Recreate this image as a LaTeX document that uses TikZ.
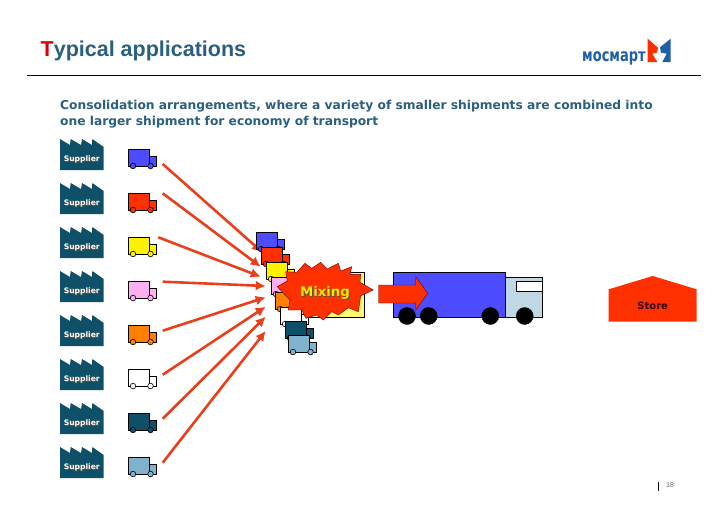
\documentclass[tikz,border=0pt]{standalone}
\usepackage{fontspec}
\setmainfont{Liberation Sans}
\newfontfamily\versefont{DejaVu Sans}
\usepackage{xcolor}
\usetikzlibrary{arrows.meta}
\definecolor{ftitle}{HTML}{2B5F7E}
\definecolor{fteal}{HTML}{0D5068}
\definecolor{fred}{HTML}{FF3000}
\definecolor{farrow}{HTML}{E8401C}
\definecolor{flogo}{HTML}{1F5FA8}
\definecolor{fblue}{HTML}{4D4DFF}
\definecolor{fpink}{HTML}{FFB0F0}
\definecolor{fsky}{HTML}{7FB2CC}
\definecolor{fcab}{HTML}{C0D8E4}
\newcommand{\shadowed}[1]{\rlap{\hspace{1pt}\raisebox{-1pt}{\textcolor{black!75!yellow}{#1}}}#1}
\tikzset{
  lorry/.pic={
    \draw[thick, fill=#1] (21,7) rectangle (28,17);
    \draw[thick, fill=#1] (0,0) rectangle (21,17);
    \draw[semithick, fill=#1] (5,17) circle (2.8);
    \draw[semithick, fill=#1] (22.5,17) circle (2.8);
  },
  wheel/.style={fill=black, draw=black},
  feed/.style={line width=2.6pt, farrow, -{Latex[length=10pt,width=10pt]}},
  plant/.style={font=\versefont\bfseries\fontsize{7.6}{10}\selectfont, text=white},
}
\begin{document}
\begin{tikzpicture}[x=1pt, y=-1pt, line join=miter]
\useasboundingbox (0,0) rectangle (728,514);
% ---------- header ----------
\node[anchor=base west, inner sep=0pt, font=\bfseries\fontsize{21.5}{24}\selectfont, text=ftitle] (title) at (40.5,56.5)
   {\textcolor{red!85!black}{T}ypical applications};
\draw[line width=0.8pt] (27,75) -- (701,75);
\node[anchor=north west, inner sep=0pt, align=left, text=ftitle, font=\versefont\bfseries\fontsize{12.25}{16}\selectfont] (intro) at (60,99.5)
   {Consolidation arrangements, where a variety of smaller shipments are combined into\\one larger shipment for economy of transport};
% ---------- logo ----------
\node[anchor=base west, inner sep=0pt, text=flogo, font=\versefont\bfseries\fontsize{13}{16}\selectfont] (logo) at (582,61) {\scalebox{1}[1.35]{мосмарт}};
\fill[fred] (647.7,38.7) -- (658.3,48) -- (656.7,52.7) -- (652.3,53.7) -- (657.3,62) -- (647.7,62) -- cycle;
\fill[flogo] (670.7,38.7) -- (670.7,62) -- (662.3,62) -- (666.7,53.7) -- (661,52.7) -- (660,47.3) -- cycle;
% ---------- suppliers, their lorries, feeds ----------
\foreach \n/\ytop/\col/\xa/\ya/\xb/\yb in {
  1/139/fblue/162.7/164/262/252,
  2/183/fred/162.7/193.3/260.7/266.7,
  3/227/yellow/158.3/237.3/260.7/276.7,
  4/271/fpink/162.7/281.7/265.7/286,
  5/315/orange/162.7/330.7/265.7/297.3,
  6/359/white/162.7/374.7/265.7/306.7,
  7/403/fteal/162.7/418.7/265.7/316.7,
  8/447/fsky/162.7/462.7/265.7/331}{
  \begin{scope}[shift={(60,\ytop)}]
    \fill[fteal] (0,0) -- (10,6) -- (10.7,0) -- (21,6) -- (22,0) -- (32,6) -- (32.3,0) -- (43.7,8) -- (43.7,31) -- (0,31) -- cycle;
    \node[plant] (supplier\n) at (21.8,20.5) {\shadowed{Supplier}};
  \end{scope}
  \pic at (128,\ytop+10) {lorry=\col};
  \coordinate (from\n) at (\xa,\ya);
  \coordinate (to\n) at (\xb,\yb);
  \draw[feed] (from\n) -- (to\n);
}
% ---------- mixing pile ----------
\draw[thick, fill=yellow!55!white] (300,272.3) rectangle (364.3,317);
\foreach \x/\y/\col in {256/232/fblue,261/247/fred,266/262/yellow,271/277/fpink,275/292/orange,280/307/white,285/321/fteal,288/335/fsky}{
  \pic at (\x,\y) {lorry=\col};
}
\filldraw[draw=black!60!red, fill=fred] (277.3,286.7) -- (287.3,281) -- (285.7,271.7) -- (296.7,272.3) -- (305,263.3) -- (311.7,268.3) -- (320.7,262.3) -- (327.3,269) -- (338.3,263.3) -- (340.7,271) -- (351.7,266.7) -- (350,274.3) -- (360.7,274.3) -- (360,282.3) -- (373.3,290) -- (360.7,295.7) -- (358.3,311.7) -- (348.3,307.7) -- (338.3,315) -- (331.7,311.7) -- (323.3,320) -- (316.7,315) -- (306,318.3) -- (301.7,310) -- (288.3,310) -- (290,300) -- cycle;
\node[text=yellow!90!orange, font=\versefont\bfseries\fontsize{13.3}{15}\selectfont] (mixing) at (325,293.5) {\shadowed{Mixing}};
% ---------- big lorry ----------
\draw[semithick, fill=fblue] (393,272.3) rectangle (505.7,317.3);
\draw[semithick, fill=fcab] (505.7,277) rectangle (542.7,317.3);
\draw[semithick, fill=white] (516.3,281.7) rectangle (542.7,291);
\foreach \n/\x in {a/407,b/428.7,c/490.3,d/524.7}{
  \node[wheel, circle, minimum size=17pt, inner sep=0pt] (wheel\n) at (\x,316) {};
}
\filldraw[draw=black!60!red, fill=fred] (378.5,285) -- (415.7,285) -- (415.7,276.7) -- (427.7,293.3) -- (415.7,310) -- (415.7,303) -- (378.5,303) -- cycle;
% ---------- store ----------
\fill[fred] (608.7,289.3) -- (652.7,276) -- (696.7,289.3) -- (696.7,321.7) -- (608.7,321.7) -- cycle;
\node[text=black!80!red, font=\versefont\bfseries\fontsize{10}{12}\selectfont] (store) at (652.7,305.5) {Store};
% ---------- page number ----------
\draw[semithick] (658.5,482) -- (658.5,491);
\node[anchor=west, inner sep=0pt, text=black!60, font=\fontsize{7}{8}\selectfont] (page) at (666,485) {18};
\end{tikzpicture}
\end{document}
